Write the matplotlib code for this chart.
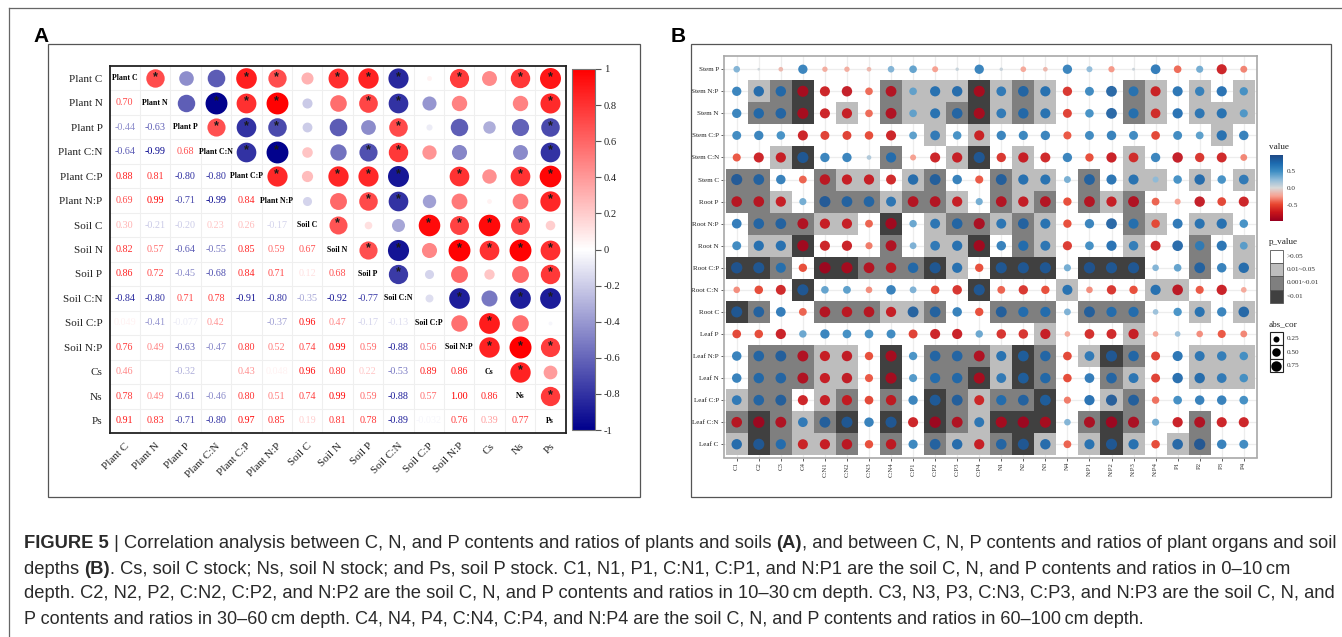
#!/usr/bin/env python3
"""Figure 5: correlation matrix (A) and organ/soil-depth correlation dots (B)."""

import matplotlib

matplotlib.use('Agg')
import matplotlib.pyplot as plt
from matplotlib.colorbar import Colorbar
from matplotlib.colors import LinearSegmentedColormap, Normalize
from matplotlib.lines import Line2D
from matplotlib.patches import Rectangle
import numpy as np

W, H = 1342, 637
SERIF = 'Liberation Serif'
SANS = 'Liberation Sans'

# ── Panel A data ──────────────────────────────────────────────────────────────
A_LABELS = ['Plant C', 'Plant N', 'Plant P', 'Plant C:N', 'Plant C:P', 'Plant N:P',
            'Soil C', 'Soil N', 'Soil P', 'Soil C:N', 'Soil C:P', 'Soil N:P',
            'Cs', 'Ns', 'Ps']

# lower triangle, row by row; 0.0 means the cell is blank in the figure
A_LOWER = [
    [0.70],
    [-0.44, -0.63],
    [-0.64, -0.99, 0.68],
    [0.88, 0.81, -0.80, -0.80],
    [0.69, 0.99, -0.71, -0.99, 0.84],
    [0.30, -0.21, -0.20, 0.23, 0.26, -0.17],
    [0.82, 0.57, -0.64, -0.55, 0.85, 0.59, 0.67],
    [0.86, 0.72, -0.45, -0.68, 0.84, 0.71, 0.12, 0.68],
    [-0.84, -0.80, 0.71, 0.78, -0.91, -0.80, -0.35, -0.92, -0.77],
    [0.049, -0.41, -0.077, 0.42, 0.0, -0.37, 0.96, 0.47, -0.17, -0.13],
    [0.76, 0.49, -0.63, -0.47, 0.80, 0.52, 0.74, 0.99, 0.59, -0.88, 0.56],
    [0.46, 0.0, -0.32, 0.0, 0.43, 0.048, 0.96, 0.80, 0.22, -0.53, 0.89, 0.86],
    [0.78, 0.49, -0.61, -0.46, 0.80, 0.51, 0.74, 0.99, 0.59, -0.88, 0.57, 1.00, 0.86],
    [0.91, 0.83, -0.71, -0.80, 0.97, 0.85, 0.19, 0.81, 0.78, -0.89, -0.032, 0.76, 0.39, 0.77],
]
STAR_CUTOFF = 0.65  # the starred circles are the ones at or above this |r|
A_TICKS = [1, 0.8, 0.6, 0.4, 0.2, 0, -0.2, -0.4, -0.6, -0.8, -1]

# ── Panel B data ──────────────────────────────────────────────────────────────
B_COLS = ['C1', 'C2', 'C3', 'C4', 'C:N1', 'C:N2', 'C:N3', 'C:N4',
          'C:P1', 'C:P2', 'C:P3', 'C:P4', 'N1', 'N2', 'N3', 'N4',
          'N:P1', 'N:P2', 'N:P3', 'N:P4', 'P1', 'P2', 'P3', 'P4']
B_ROWS = ['Stem P', 'Stem N:P', 'Stem N', 'Stem C:P', 'Stem C:N', 'Stem C',
          'Root P', 'Root N:P', 'Root N', 'Root C:P', 'Root C:N', 'Root C',
          'Leaf P', 'Leaf N:P', 'Leaf N', 'Leaf C:P', 'Leaf C:N', 'Leaf C']

B_VALUES = [
    [.3, .05, -.15, .6, -.2, -.2, -.15, .3, .4, -.25, .08, .6, .08, -.22, -.15, .6, .25, -.27, .06, .65, -.4, .35, -.7, -.33],
    [.6, .75, .75, -.85, -.7, -.75, -.4, -.8, .4, .72, .75, -.85, .65, .78, .72, -.6, .55, .8, .68, -.7, .7, .6, .72, .48],
    [.6, .75, .78, -.85, -.7, -.72, -.4, -.82, .4, .7, .78, -.85, .65, .75, .7, -.55, .5, .8, .7, -.65, .72, .68, .7, .45],
    [.55, .6, .5, -.7, -.55, -.55, -.5, -.7, .42, .65, .5, -.7, .6, .58, .6, -.45, .55, .62, .55, -.52, .55, .42, .72, .62],
    [-.45, -.7, -.72, .85, .6, .6, .15, .72, -.25, -.7, -.72, .85, -.6, -.72, -.68, .6, -.48, -.72, -.65, .6, -.75, -.6, -.68, -.32],
    [.85, .8, .62, -.42, -.76, -.72, -.72, -.68, .75, .82, .62, -.45, .82, .72, .7, .33, .8, .7, .7, .25, .5, .75, .5, .65],
    [-.78, -.78, -.72, .35, .85, .8, .78, .68, -.8, -.8, -.72, .35, -.8, -.74, -.8, -.48, -.8, -.72, -.82, -.42, -.25, -.75, -.52, -.7],
    [.65, .78, .8, -.82, -.72, -.72, -.42, -.88, .38, .68, .78, -.85, .68, .8, .7, -.48, .6, .8, .7, -.5, .68, .7, .72, .5],
    [.55, .72, .72, -.88, -.7, -.72, -.35, -.82, .32, .65, .72, -.88, .62, .72, .68, -.58, .52, .72, .62, -.68, .78, .62, .7, .42],
    [.88, .85, .7, -.48, -.9, -.86, -.8, -.75, .75, .85, .72, -.48, .85, .85, .85, .35, .88, .85, .85, .3, .4, .8, .62, .75],
    [-.3, -.5, -.68, .85, .4, .42, -.3, .62, .32, -.5, -.62, .85, -.42, -.6, -.48, .7, -.3, -.6, -.48, .72, -.78, -.45, -.72, -.22],
    [.85, .8, .65, -.42, -.8, -.76, -.78, -.72, .82, .8, .62, -.48, .82, .72, .72, .32, .82, .72, .72, .22, .48, .7, .6, .78],
    [-.52, -.5, -.72, .38, .6, .52, .52, .55, -.55, -.7, -.72, .38, -.62, -.62, -.72, -.22, -.65, -.68, -.72, -.22, .22, -.3, -.45, -.32],
    [.62, .78, .82, -.82, -.72, -.75, -.48, -.85, .48, .78, .78, -.82, .7, .8, .76, -.52, .65, .85, .76, -.55, .7, .68, .62, .5],
    [.62, .75, .78, -.82, -.72, -.75, -.45, -.86, .45, .72, .75, -.85, .66, .8, .75, -.5, .65, .78, .68, -.55, .75, .75, .65, .5],
    [.65, .78, .82, -.7, -.72, -.72, -.52, -.74, .6, .82, .82, -.68, .72, .8, .8, -.35, .72, .85, .82, -.38, .52, .62, .62, .52],
    [-.78, -.9, -.82, .65, .82, .85, .62, .85, -.7, -.9, -.82, .68, -.86, -.9, -.85, .3, -.84, -.9, -.85, .35, -.72, -.82, -.7, -.7],
    [.75, .85, .72, -.7, -.72, -.76, -.48, -.75, .58, .8, .75, -.72, .78, .85, .75, -.42, .7, .85, .72, -.5, .78, .88, .62, .55],
]

# p class of each cell: 0 >0.05, 1 0.01~0.05, 2 0.001~0.01, 3 <0.01
B_PCLASS = [
    '000000000000000000000000',
    '012300021113121000210101',
    '022301021123121000210111',
    '000000000101000000000010',
    '001300020013010000100000',
    '220021101200211020110101',
    '221022212210212021200000',
    '022211030122121000210110',
    '011300020113021000100201',
    '332033222310333033300201',
    '000300000003000100011000',
    '320022211200222022200101',
    '000000000000001000100000',
    '022211030222132013200111',
    '022211030223132002100111',
    '122012020321223001200000',
    '232123030321333023200200',
    '132112020211231013101200',
]
P_LABELS = ['>0.05', '0.01~0.05', '0.001~0.01', '<0.01']
P_COLORS = ['#FFFFFF', '#BDBDBD', '#7F7F7F', '#404040']
SIZE_LEGEND = [0.25, 0.50, 0.75]
VALUE_TICKS = [0.5, 0.0, -0.5]
VALUE_LIMITS = (-0.96, 0.97)

CAPTION = [
    [('FIGURE 5', True), (' | Correlation analysis between C, N, and P contents and ratios of plants and soils ', False),
     ('(A)', True), (', and between C, N, P contents and ratios of plant organs and soil', False)],
    [('depths ', False), ('(B)', True),
     ('. Cs, soil C stock; Ns, soil N stock; and Ps, soil P stock. C1, N1, P1, C:N1, C:P1, and N:P1 are the soil C, N, and P contents and ratios in 0\u201310\u2009cm', False)],
    [('depth. C2, N2, P2, C:N2, C:P2, and N:P2 are the soil C, N, and P contents and ratios in 10\u201330\u2009cm depth. C3, N3, P3, C:N3, C:P3, and N:P3 are the soil C, N, and', False)],
    [('P contents and ratios in 30\u201360\u2009cm depth. C4, N4, P4, C:N4, C:P4, and N:P4 are the soil C, N, and P contents and ratios in 60\u2013100\u2009cm depth.', False)],
]
CAPTION_SIZES = [13.2, 13.2, 13.2, 12.95]  # the page sets its lines justified

# ── Colours ───────────────────────────────────────────────────────────────────
CORR_CMAP = LinearSegmentedColormap.from_list('corr', ['#00008C', '#FFFFFF', '#FF0000'])
VALUE_CMAP = LinearSegmentedColormap.from_list(
    'value', ['#99001F', '#C8141A', '#E8452F', '#F7A090', '#D9D9D9',
              '#8FBBD9', '#3E8EC4', '#1C6AAF', '#1F4A86'])


def px_axes(fig, x0, y0, x1, y1):
    """Axes placed by image pixels (y counted from the top)."""
    return fig.add_axes([x0 / W, 1 - y1 / H, (x1 - x0) / W, (y1 - y0) / H])


def px_line(fig, x0, y0, x1, y1, color, lw):
    fig.add_artist(Line2D([x0 / W, x1 / W], [1 - y0 / H, 1 - y1 / H],
                          color=color, linewidth=lw, transform=fig.transFigure))


def px_box(fig, x0, y0, x1, y1, color, lw):
    fig.add_artist(Rectangle((x0 / W, 1 - y1 / H), (x1 - x0) / W, (y1 - y0) / H,
                             fill=False, edgecolor=color, linewidth=lw,
                             transform=fig.transFigure))


def format_corr(v):
    return f'{v:.2f}' if abs(v) >= 0.1 else f'{v:.2g}'


def draw_panel_a(fig):
    n = len(A_LABELS)
    corr = np.eye(n)
    for i, row in enumerate(A_LOWER, start=1):
        for j, v in enumerate(row):
            corr[i, j] = corr[j, i] = v

    ax = px_axes(fig, 109.5, 66, 565.5, 433)
    ax.set_xlim(-0.5, n - 0.5)
    ax.set_ylim(n - 0.5, -0.5)
    ax.set_xticks(np.arange(n - 1) + 0.5, minor=True)
    ax.set_yticks(np.arange(n - 1) + 0.5, minor=True)
    ax.grid(True, which='minor', color='#EFEFEF', linewidth=0.8)
    ax.set_axisbelow(True)
    ax.tick_params(which='both', length=0)
    for spine in ax.spines.values():
        spine.set_linewidth(1.3)
        spine.set_color('#222222')

    ax.set_xticks(range(n))
    ax.set_yticks(range(n))
    ax.set_yticklabels(A_LABELS, family=SERIF, fontsize=8.0, color='#222222')
    ax.set_xticklabels(A_LABELS, family=SERIF, fontsize=8.0, color='#222222',
                       rotation=45, ha='right', va='top', rotation_mode='anchor')
    ax.tick_params(axis='x', pad=6)
    ax.tick_params(axis='y', pad=5)

    norm = Normalize(-1, 1)
    for i in range(n):
        ax.text(i, i, A_LABELS[i], family=SERIF, fontsize=5.7, fontweight='bold',
                ha='center', va='center', color='black')
        for j in range(n):
            v = corr[i, j]
            if i > j and v != 0:
                ax.text(j, i, format_corr(v), family=SERIF, fontsize=7.3,
                        ha='center', va='center', color=CORR_CMAP(norm(v)))
            elif i < j and v != 0:
                # area follows |r|; 22 px across at |r| = 1
                ax.scatter(j, i, s=abs(v) * 251, color=CORR_CMAP(norm(v)),
                           linewidths=0, zorder=2)
                if abs(v) >= STAR_CUTOFF:
                    ax.text(j, i - 0.06, '*', family=SANS, fontsize=9, fontweight='bold',
                            ha='center', va='center', color='#1A1A1A', zorder=3)

    cax = px_axes(fig, 571.5, 69, 595, 430)
    cb = Colorbar(cax, cmap=CORR_CMAP, norm=norm, ticks=A_TICKS)
    cb.ax.set_yticklabels([f'{t:g}' for t in A_TICKS], family=SERIF, fontsize=7.6,
                          color='#222222')
    cb.ax.tick_params(length=4.3, width=0.8, color='#555555', pad=2)
    cb.outline.set_edgecolor('#777777')
    cb.outline.set_linewidth(0.8)


def draw_panel_b(fig):
    ax = px_axes(fig, 723.5, 56, 1257, 457.5)
    ncol, nrow = len(B_COLS), len(B_ROWS)
    ax.set_xlim(-0.6, ncol - 0.4)
    ax.set_ylim(nrow - 0.4, -0.6)
    ax.set_xticks(range(ncol))
    ax.set_yticks(range(nrow))
    ax.set_xticklabels(B_COLS, family=SERIF, fontsize=4.9, rotation=90, color='#333333')
    ax.set_yticklabels(B_ROWS, family=SERIF, fontsize=5.1, color='#222222')
    ax.tick_params(length=2.2, width=0.6, color='#444444', pad=1.2)
    ax.grid(True, color='#EDEDED', linewidth=0.9)
    ax.set_axisbelow(True)
    for spine in ax.spines.values():
        spine.set_color('#A8A8A8')
        spine.set_linewidth(1.2)

    values = np.array(B_VALUES)
    pclass = np.array([[int(c) for c in row] for row in B_PCLASS])
    norm = Normalize(*VALUE_LIMITS)
    for i in range(nrow):
        for j in range(ncol):
            if pclass[i, j] > 0:
                ax.add_patch(Rectangle((j - 0.5, i - 0.5), 1, 1, linewidth=0,
                                       facecolor=P_COLORS[pclass[i, j]], zorder=1))
    xx, yy = np.meshgrid(range(ncol), range(nrow))
    # 12 px across at |value| = 1, area follows |value|
    ax.scatter(xx.ravel(), yy.ravel(), s=np.abs(values).ravel() * 75,
               c=values.ravel(), cmap=VALUE_CMAP, norm=norm, linewidths=0,
               alpha=0.93, zorder=3)

    # value legend
    fig.text(1269 / W, 1 - 147 / H, 'value', family=SERIF, fontsize=6.6,
             color='#222222', va='center')
    cax = px_axes(fig, 1269.5, 155, 1283, 220.7)
    cb = Colorbar(cax, cmap=VALUE_CMAP, norm=norm, ticks=VALUE_TICKS)
    cb.ax.set_yticklabels([f'{t:.1f}' for t in VALUE_TICKS], family=SERIF, fontsize=5.2,
                          color='#333333')
    cb.ax.tick_params(length=0, pad=3)
    cb.outline.set_visible(False)

    # p_value legend
    fig.text(1269 / W, 1 - 242 / H, 'p_value', family=SERIF, fontsize=6.6,
             color='#222222', va='center')
    pax = px_axes(fig, 1269.5, 250, 1283, 302.7)
    pax.set_xlim(0, 1)
    pax.set_ylim(len(P_LABELS), 0)
    pax.axis('off')
    for i, (label, colour) in enumerate(zip(P_LABELS, P_COLORS)):
        pax.add_patch(Rectangle((0, i), 1, 1, facecolor=colour, edgecolor='#555555',
                                linewidth=0.6, clip_on=False))
        pax.text(1.25, i + 0.5, label, family=SERIF, fontsize=5.2, color='#333333',
                 va='center', clip_on=False)

    # abs_cor legend
    fig.text(1269 / W, 1 - 324 / H, 'abs_cor', family=SERIF, fontsize=6.6,
             color='#222222', va='center')
    sax = px_axes(fig, 1269.5, 332, 1283, 372.3)
    sax.set_xlim(0, 1)
    sax.set_ylim(len(SIZE_LEGEND), 0)
    sax.axis('off')
    for i, v in enumerate(SIZE_LEGEND):
        sax.add_patch(Rectangle((0, i), 1, 1, facecolor='white', edgecolor='#222222',
                                linewidth=0.8, clip_on=False))
        sax.scatter(0.5, i + 0.5, s=v * 75, color='black', linewidths=0, zorder=3)
        sax.text(1.25, i + 0.5, f'{v:.2f}', family=SERIF, fontsize=5.2, color='#333333',
                 va='center', clip_on=False)


def draw_caption(fig):
    renderer = fig.canvas.get_renderer()
    baselines = [548.5, 573.5, 598.5, 623.5]
    for runs, y, size in zip(CAPTION, baselines, CAPTION_SIZES):
        x = 24
        for text, bold in runs:
            t = fig.text(x / W, 1 - y / H, text, family=SANS, fontsize=size,
                         fontweight='bold' if bold else 'normal', color='#2A2A2A',
                         va='baseline', ha='left')
            # next run starts where this one ended, trailing blanks included
            x += t.get_window_extent(renderer).width


def main():
    fig = plt.figure(figsize=(W / 100, H / 100), dpi=100, facecolor='white')

    # page frame and the two panel frames
    px_line(fig, 9, 8, W, 8, '#666666', 0.9)
    px_line(fig, 9, 8, 9, H, '#666666', 0.9)
    px_box(fig, 47.5, 43.5, 639.5, 497, '#555555', 0.9)
    px_box(fig, 690.5, 43.5, 1331, 497, '#555555', 0.9)

    fig.text(33 / W, 1 - 42 / H, 'A', family=SANS, fontsize=15, fontweight='bold',
             va='baseline')
    fig.text(671 / W, 1 - 42 / H, 'B', family=SANS, fontsize=15, fontweight='bold',
             va='baseline')

    draw_panel_a(fig)
    draw_panel_b(fig)
    draw_caption(fig)

    fig.savefig('out.png', dpi=100)
    plt.close(fig)


if __name__ == '__main__':
    main()
